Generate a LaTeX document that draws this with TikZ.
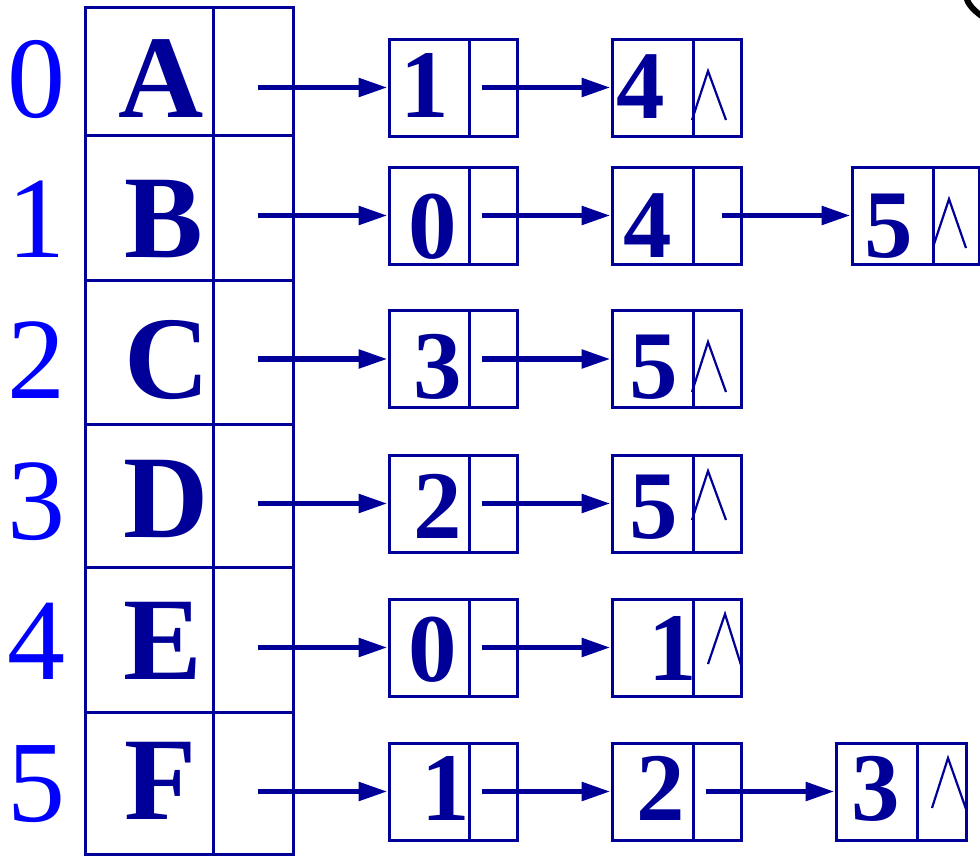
\documentclass[tikz,border=0pt]{standalone}
\usepackage{fontspec}
\setmainfont{Liberation Serif}
\usetikzlibrary{arrows.meta}
\definecolor{dblue}{RGB}{0,0,153}
\definecolor{iblue}{RGB}{0,0,255}
\begin{document}
\begin{tikzpicture}[x=1pt,y=-1pt,
 cellbox/.style={draw=dblue, line width=3pt, inner sep=0pt, minimum height=97pt},
 tcell/.style={draw=dblue, line width=3pt, inner sep=0pt},
 lbl/.style={text=dblue, font=\bfseries\fontsize{97}{97}\selectfont, anchor=base, inner sep=0pt},
 vtx/.style={text=dblue, font=\bfseries\fontsize{118}{118}\selectfont, anchor=base, inner sep=0pt},
 idx/.style={text=iblue, font=\fontsize{116}{116}\selectfont, anchor=base, inner sep=0pt},
 arr/.style={draw=dblue, line width=5.5pt, -{Triangle[length=29pt,width=18pt]}},
 nul/.style={draw=dblue, line width=2.2pt},
]
\useasboundingbox (0,0) rectangle (980,855);

% vertex table
\node[tcell, minimum width=128pt, minimum height=128pt] (v0) at (149,71) {};
\node[tcell, minimum width=80pt, minimum height=128pt] (t0) at (253,71) {};
\node[tcell, minimum width=128pt, minimum height=145pt] (v1) at (149,207.5) {};
\node[tcell, minimum width=80pt, minimum height=145pt] (t1) at (253,207.5) {};
\node[tcell, minimum width=128pt, minimum height=144pt] (v2) at (149,352) {};
\node[tcell, minimum width=80pt, minimum height=144pt] (t2) at (253,352) {};
\node[tcell, minimum width=128pt, minimum height=143pt] (v3) at (149,495.5) {};
\node[tcell, minimum width=80pt, minimum height=143pt] (t3) at (253,495.5) {};
\node[tcell, minimum width=128pt, minimum height=145pt] (v4) at (149,639.5) {};
\node[tcell, minimum width=80pt, minimum height=145pt] (t4) at (253,639.5) {};
\node[tcell, minimum width=128pt, minimum height=142pt] (v5) at (149,783) {};
\node[tcell, minimum width=80pt, minimum height=142pt] (t5) at (253,783) {};

% index numbers
\node[idx] (i0) at (37,117) {0};
\node[idx] (i1) at (37,257) {1};
\node[idx] (i2) at (36,398) {2};
\node[idx] (i3) at (36,539) {3};
\node[idx] (i4) at (37,679) {4};
\node[idx] (i5) at (36,821) {5};

% vertex letters
\node[vtx] (la) at (161,117) {A};
\node[vtx] (lb) at (164,257) {B};
\node[vtx] (lc) at (167,398) {C};
\node[vtx] (ld) at (166,537) {D};
\node[vtx] (le) at (163,679) {E};
\node[vtx] (lf) at (161,819) {F};

% list nodes: row 0
\node[cellbox, minimum width=80pt] (a1) at (429,87.5) {};
\node[cellbox, minimum width=48pt] (a1p) at (493,87.5) {};
\node[cellbox, minimum width=81pt] (a2) at (652.5,87.5) {};
\node[cellbox, minimum width=48pt] (a2p) at (717,87.5) {};
% row 1
\node[cellbox, minimum width=80pt] (b1) at (429,215.5) {};
\node[cellbox, minimum width=48pt] (b1p) at (493,215.5) {};
\node[cellbox, minimum width=81pt] (b2) at (652.5,215.5) {};
\node[cellbox, minimum width=48pt] (b2p) at (717,215.5) {};
\node[cellbox, minimum width=81pt] (b3) at (892.5,215.5) {};
\node[cellbox, minimum width=46pt] (b3p) at (956,215.5) {};
% row 2
\node[cellbox, minimum width=80pt] (c1) at (429,359) {};
\node[cellbox, minimum width=48pt] (c1p) at (493,359) {};
\node[cellbox, minimum width=81pt] (c2) at (652.5,359) {};
\node[cellbox, minimum width=48pt] (c2p) at (717,359) {};
% row 3
\node[cellbox, minimum width=80pt] (d1) at (429,503.5) {};
\node[cellbox, minimum width=48pt] (d1p) at (493,503.5) {};
\node[cellbox, minimum width=81pt] (d2) at (652.5,503.5) {};
\node[cellbox, minimum width=48pt] (d2p) at (717,503.5) {};
% row 4
\node[cellbox, minimum width=80pt] (e1) at (429,647.5) {};
\node[cellbox, minimum width=48pt] (e1p) at (493,647.5) {};
\node[cellbox, minimum width=81pt] (e2) at (652.5,647.5) {};
\node[cellbox, minimum width=48pt] (e2p) at (717,647.5) {};
% row 5
\node[cellbox, minimum width=80pt] (f1) at (429,791.5) {};
\node[cellbox, minimum width=48pt] (f1p) at (493,791.5) {};
\node[cellbox, minimum width=81pt] (f2) at (652.5,791.5) {};
\node[cellbox, minimum width=48pt] (f2p) at (717,791.5) {};
\node[cellbox, minimum width=81pt] (f3) at (876.5,791.5) {};
\node[cellbox, minimum width=49pt] (f3p) at (941.5,791.5) {};

% digits
\node[lbl] (ta1) at (425,117) {1};
\node[lbl] (ta2) at (641,118) {4};
\node[lbl] (tb1) at (433,258) {0};
\node[lbl] (tb2) at (648,257) {4};
\node[lbl] (tb3) at (889,257) {5};
\node[lbl] (tc1) at (438,398) {3};
\node[lbl] (tc2) at (654,398) {5};
\node[lbl] (td1) at (438,538) {2};
\node[lbl] (td2) at (654,538) {5};
\node[lbl] (te1) at (433,681) {0};
\node[lbl] (te2) at (673,680) {1};
\node[lbl] (tf1) at (446,820) {1};
\node[lbl] (tf2) at (661,820) {2};
\node[lbl] (tf3) at (876,820) {3};

% null marks
\draw[nul] (692,120) -- (708,71) -- (726,120);
\draw[nul] (933,247) -- (949,199) -- (966,248);
\draw[nul] (692,392) -- (708,342) -- (726,392);
\draw[nul] (692,520) -- (708,471) -- (726,520);
\draw[nul] (708,664) -- (725,614) -- (741,665);
\draw[nul] (932,808) -- (948,758) -- (966,809);

% arrow start points
\coordinate (s0) at (258,87.5);
\coordinate (s1) at (258,215.5);
\coordinate (s2) at (258,359);
\coordinate (s3) at (258,503.5);
\coordinate (s4) at (258,647.5);
\coordinate (s5) at (258,791.5);
\coordinate (pa1) at (482,87.5);
\coordinate (pb1) at (482,215.5);
\coordinate (pb2) at (722,215.5);
\coordinate (pc1) at (482,359);
\coordinate (pd1) at (482,503.5);
\coordinate (pe1) at (482,647.5);
\coordinate (pf1) at (482,791.5);
\coordinate (pf2) at (706,791.5);

% arrows
\draw[arr] (s0) -- (a1.west);
\draw[arr] (s1) -- (b1.west);
\draw[arr] (s2) -- (c1.west);
\draw[arr] (s3) -- (d1.west);
\draw[arr] (s4) -- (e1.west);
\draw[arr] (s5) -- (f1.west);
\draw[arr] (pa1) -- (a2.west);
\draw[arr] (pb1) -- (b2.west);
\draw[arr] (pb2) -- (b3.west);
\draw[arr] (pc1) -- (c2.west);
\draw[arr] (pd1) -- (d2.west);
\draw[arr] (pe1) -- (e2.west);
\draw[arr] (pf1) -- (f2.west);
\draw[arr] (pf2) -- (f3.west);

% corner arc fragment
\draw[line width=6pt, black] (966,-3) .. controls (968,4) and (973,10) .. (983,17);
\end{tikzpicture}
\end{document}
